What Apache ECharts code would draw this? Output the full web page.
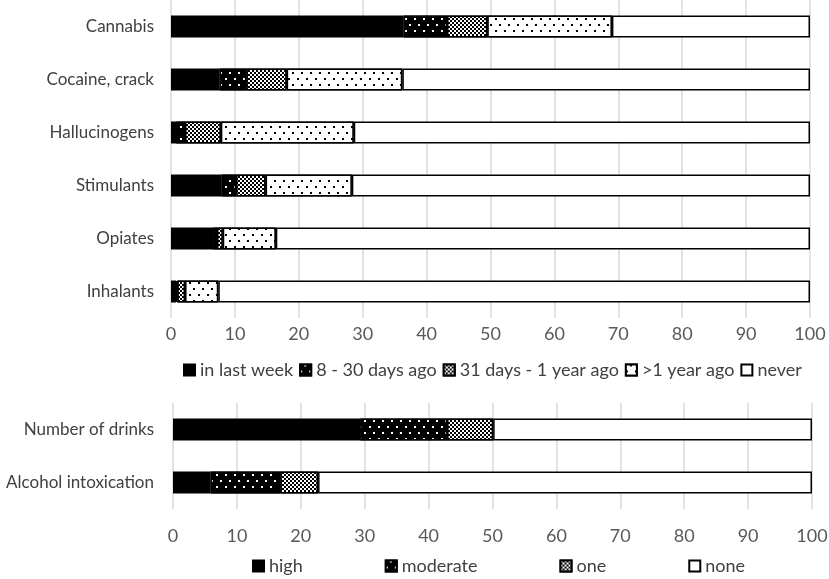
<!DOCTYPE html>
<html><head><meta charset="utf-8">
<script src="https://cdn.jsdelivr.net/npm/echarts@6/dist/echarts.min.js"></script>
<style>html,body{margin:0;padding:0;background:#fff}#c{width:829px;height:579px}</style>
</head><body><div id="c"></div>
<script>
const drugCategories = ['Cannabis','Cocaine, crack','Hallucinogens','Stimulants','Opiates','Inhalants'];
const drugSeriesNames = ['in last week','8 - 30 days ago','31 days - 1 year ago','>1 year ago','never'];
const lastWeek   = [36.4, 7.6, 0.8, 7.9, 6.6, 0.8];
const days8to30  = [6.8, 4.2, 1.4, 2.3, 0.6, 0.2];
const days31to1y = [6.3, 6.3, 5.6, 4.6, 0.9, 1.2];
const over1year  = [19.5, 18.1, 20.8, 13.5, 8.3, 5.2];
const never      = [31.0, 63.8, 71.4, 71.7, 83.6, 92.6];

const alcoholCategories = ['Number of drinks','Alcohol intoxication'];
const alcoholSeriesNames = ['high','moderate','one','none'];
const high     = [29.3, 5.9];
const moderate = [13.6, 10.9];
const one      = [7.2, 5.9];
const none     = [49.9, 77.3];

const xTicks = [0,10,20,30,40,50,60,70,80,90,100];

const FONT = 'Lato';
const solid = {color:'#000'};
const whiteDots = {color:'#000', decal:{symbol:'rect', symbolSize:1, color:'#fff', backgroundColor:'#000',
  dashArrayX:[[1.8,6.2],[0,4,1.8,2.2]], dashArrayY:[1.8,3.2], rotation:0}};
const checker = {color:'#fff', decal:{symbol:'rect', symbolSize:1, color:'#000', backgroundColor:'#fff',
  dashArrayX:[[1.5,1.5],[0,1.5,1.5,0]], dashArrayY:[1.5,0], rotation:0}};
const blackDots = {color:'#fff', decal:{symbol:'rect', symbolSize:1, color:'#000', backgroundColor:'#fff',
  dashArrayX:[[1.8,6.2],[0,4,1.8,2.2]], dashArrayY:[1.8,3.2], rotation:0}};
const white = {color:'#fff'};
function st(s){return Object.assign({borderColor:'#000', borderWidth:1.5}, s);}

const topStyles = [solid, whiteDots, checker, blackDots, white];
const topData = [lastWeek, days8to30, days31to1y, over1year, never];
const botStyles = [solid, whiteDots, checker, white];
const botData = [high, moderate, one, none];

const series = [];
drugSeriesNames.forEach((n,i)=>series.push({name:n, type:'bar', stack:'a', xAxisIndex:0, yAxisIndex:0,
  barWidth:22, data:topData[i], itemStyle:st(topStyles[i])}));
alcoholSeriesNames.forEach((n,i)=>series.push({name:n, type:'bar', stack:'b', xAxisIndex:1, yAxisIndex:1,
  barWidth:22, data:botData[i], itemStyle:st(botStyles[i])}));

function xAxisBase(margin){return {type:'value', min:xTicks[0], max:xTicks[xTicks.length-1], interval:10,
  axisLine:{show:false}, axisTick:{show:false},
  splitLine:{lineStyle:{color:'#d9d9d9', width:1.5}},
  axisLabel:{color:'#595959', fontSize:18, fontFamily:FONT, margin:margin}};}
function yAxisBase(margin){return {type:'category', inverse:true, axisLine:{show:false}, axisTick:{show:false},
  axisLabel:{color:'#404040', fontSize:17, fontFamily:FONT, margin:margin}};}

const chart = echarts.init(document.getElementById('c'));
chart.setOption({
  animation:false,
  grid:[{left:171, right:19, top:0, height:318, outerBoundsMode:'none', containLabel:false},
        {left:173, right:17, top:403, height:106, outerBoundsMode:'none', containLabel:false}],
  xAxis:[Object.assign({gridIndex:0}, xAxisBase(7)), Object.assign({gridIndex:1}, xAxisBase(18))],
  yAxis:[Object.assign({gridIndex:0, data:drugCategories}, yAxisBase(17)),
         Object.assign({gridIndex:1, data:alcoholCategories}, yAxisBase(19))],
  legend:[
    {data:drugSeriesNames, left:178, top:356, itemWidth:11, itemHeight:11, itemGap:6,
     textStyle:{color:'#404040', fontSize:18, fontFamily:FONT}, icon:'rect'},
    {data:alcoholSeriesNames, left:247, top:552, itemWidth:11, itemHeight:11, itemGap:82,
     textStyle:{color:'#404040', fontSize:18, fontFamily:FONT}, icon:'rect'}
  ],
  series:series
});
</script></body></html>
